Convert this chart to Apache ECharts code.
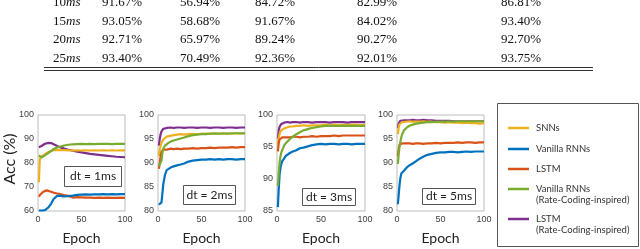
<!DOCTYPE html>
<html><head><meta charset="utf-8">
<script src="https://cdn.jsdelivr.net/npm/echarts@6/dist/echarts.min.js"></script>
<style>html,body{margin:0;padding:0;background:#fff}#c{width:640px;height:249px}</style>
</head><body><div id="c"></div>
<script>
// ---- table data ----
const tableRowLabels = ['10', '15', '20', '25'];
const tableCol1 = ['91.67%', '93.05%', '92.71%', '93.40%'];
const tableCol2 = ['56.94%', '58.68%', '65.97%', '70.49%'];
const tableCol3 = ['84.72%', '91.67%', '89.24%', '92.36%'];
const tableCol4 = ['82.99%', '84.02%', '90.27%', '92.01%'];
const tableCol5 = ['86.81%', '93.40%', '92.70%', '93.75%'];

// ---- chart data ----
const epochs = [1,2,3,4,5,6,8,10,12,15,18,22,26,30,35,40,45,50,55,60,65,70,75,80,85,90,95,100];
const seriesNames = ['SNNs', 'Vanilla RNNs', 'LSTM', 'Vanilla RNNs\n(Rate-Coding-inspired)', 'LSTM\n(Rate-Coding-inspired)'];
const panelTitles = ['dt = 1ms', 'dt = 2ms', 'dt = 3ms', 'dt = 5ms'];
const yMins = [60, 80, 85, 80];
const yIntervals = [10, 5, 5, 5];

// dt = 1ms
const snn1 = [72.0,81.0,82.5,81.8,82.8,83.2,83.8,84.2,84.6,85.0,85.3,85.5,85.4,85.4,85.3,85.2,85.3,85.2,85.3,85.2,85.3,85.2,85.3,85.2,85.3,85.2,85.3,85.3];
const van1 = [60.2,60.1,60.3,60.2,60.4,60.3,60.4,60.5,61.5,63.0,65.0,66.3,66.3,66.1,66.2,66.4,66.7,66.8,66.9,66.8,66.9,66.9,67.0,66.9,67.0,66.9,67.0,67.0];
const lstm1 = [66.0,66.5,67.0,67.5,67.8,68.0,68.4,68.6,68.4,68.0,67.6,67.3,67.0,66.6,66.3,65.6,65.8,65.7,65.6,65.6,65.5,65.6,65.5,65.6,65.5,65.5,65.6,65.5];
const vanRate1 = [83.2,83.0,82.6,82.3,82.5,82.8,83.2,83.6,84.2,85.0,85.8,86.5,86.9,87.3,87.6,87.8,87.9,88.0,87.9,88.0,87.9,88.0,88.0,88.0,87.9,88.0,88.0,88.0];
const lstmRate1 = [86.6,86.8,86.9,87.1,87.4,87.6,88.0,88.3,88.4,88.3,87.8,87.1,86.5,86.0,85.5,85.1,84.7,84.4,84.1,83.8,83.6,83.4,83.2,83.0,82.8,82.6,82.5,82.4];

// dt = 2ms
const snn2 = [91.5,92.8,93.6,94.2,94.6,94.9,95.2,95.5,95.6,95.7,95.8,95.9,96.0,95.9,96.0,96.1,96.0,96.1,96.1,96.1,96.2,96.1,96.1,96.2,96.1,96.2,96.1,96.2];
const van2 = [81.3,81.5,81.4,81.8,83.5,85.5,87.5,88.5,88.9,89.1,89.3,89.5,89.7,89.9,90.3,90.5,90.6,90.7,90.7,90.8,90.7,90.8,90.7,90.8,90.8,90.7,90.8,90.8];
const lstm2 = [88.8,90.0,91.5,92.3,92.7,92.8,92.9,92.8,92.9,93.0,92.9,93.0,92.9,93.0,93.0,93.1,93.0,93.1,93.1,93.2,93.1,93.2,93.2,93.2,93.3,93.2,93.3,93.3];
const vanRate2 = [89.3,89.4,89.6,90.5,92.0,93.0,93.6,93.9,94.2,94.5,94.7,94.9,95.1,95.3,95.6,95.8,95.9,96.0,96.0,96.1,96.1,96.1,96.2,96.1,96.2,96.2,96.2,96.2];
const lstmRate2 = [93.6,95.0,96.0,96.6,96.9,97.1,97.2,97.3,97.3,97.4,97.3,97.4,97.4,97.3,97.4,97.4,97.3,97.4,97.4,97.3,97.4,97.4,97.3,97.4,97.4,97.3,97.4,97.4];

// dt = 3ms
const snn3 = [95.4,96.5,97.1,97.5,97.7,97.8,97.9,98.0,98.1,98.2,98.2,98.3,98.3,98.4,98.3,98.4,98.4,98.4,98.5,98.4,98.5,98.4,98.5,98.4,98.5,98.5,98.4,98.5];
const van3 = [85.6,88.5,90.8,91.8,92.4,92.8,93.2,93.6,93.8,94.1,94.3,94.5,94.8,94.9,95.1,95.3,95.4,95.5,95.4,95.5,95.5,95.4,95.5,95.5,95.4,95.5,95.5,95.5];
const lstm3 = [94.3,95.6,96.2,96.4,96.5,96.5,96.6,96.5,96.6,96.5,96.6,96.6,96.5,96.6,96.6,96.7,96.6,96.7,96.7,96.7,96.8,96.7,96.8,96.8,96.8,96.8,96.8,96.8];
const vanRate3 = [88.9,91.0,92.6,93.6,94.2,94.5,95.2,95.6,95.9,96.3,96.6,97.0,97.3,97.6,97.8,98.0,98.1,98.2,98.3,98.3,98.3,98.3,98.3,98.3,98.3,98.3,98.3,98.3];
const lstmRate3 = [96.3,97.6,98.2,98.5,98.6,98.7,98.8,98.8,98.9,98.8,98.9,98.9,98.8,98.9,98.9,98.8,98.9,98.9,98.9,98.8,98.9,98.9,98.9,98.8,98.9,98.9,98.9,98.9];

// dt = 5ms
const snn4 = [96.0,97.5,98.1,98.3,98.5,98.5,98.6,98.6,98.6,98.7,98.6,98.6,98.6,98.7,98.6,98.6,98.5,98.5,98.4,98.5,98.4,98.4,98.3,98.4,98.3,98.3,98.2,98.3];
const van4 = [81.4,83.5,85.6,87.0,87.8,88.1,88.4,88.8,89.2,89.6,89.9,90.4,90.9,91.3,91.7,91.9,92.1,92.2,92.2,92.3,92.3,92.2,92.3,92.4,92.3,92.4,92.4,92.4];
const lstm4 = [91.5,93.0,93.8,94.0,93.9,94.1,94.0,94.1,94.0,94.1,94.0,94.1,94.1,94.0,94.1,94.1,94.2,94.1,94.2,94.2,94.2,94.3,94.2,94.3,94.3,94.2,94.3,94.3];
const vanRate4 = [89.8,92.0,93.6,94.6,95.4,96.0,96.8,97.2,97.5,97.8,98.0,98.2,98.3,98.4,98.5,98.5,98.6,98.6,98.6,98.7,98.6,98.7,98.7,98.7,98.7,98.7,98.7,98.7];
const lstmRate4 = [97.3,98.3,98.7,98.8,98.9,98.9,98.9,99.0,98.9,98.9,99.0,98.9,98.9,99.0,98.9,98.9,98.8,98.8,98.8,98.8,98.7,98.7,98.7,98.7,98.7,98.7,98.7,98.7];

const panels = [
  [snn1, van1, lstm1, vanRate1, lstmRate1],
  [snn2, van2, lstm2, vanRate2, lstmRate2],
  [snn3, van3, lstm3, vanRate3, lstmRate3],
  [snn4, van4, lstm4, vanRate4, lstmRate4]
];
const colors = ['#EDB120', '#0072BD', '#D95319', '#77AC30', '#7E2F8E'];
const drawOrder = [4, 0, 2, 1, 3];

const gridLefts = [38, 158, 277, 397];
const gridWidths = [87, 87, 88, 87];
const boxes = [[64, 166, 57, 20], [183, 185, 52, 19], [302, 188, 53, 17], [422, 188, 53, 16]];

const sans = 'Lato, "Open Sans", sans-serif';
const grids = [], xAxes = [], yAxes = [], series = [], graphics = [];
panels.forEach((p, i) => {
  grids.push({left: gridLefts[i], top: 115, width: gridWidths[i], height: 96, show: true, borderColor: '#bdbdbd', borderWidth: 1, containLabel: false});
  xAxes.push({type: 'value', gridIndex: i, min: 0, max: 100, interval: 50,
    axisLine: {show: false}, axisTick: {show: false}, splitLine: {show: false},
    axisLabel: {color: '#404040', fontSize: 9, margin: 4, fontFamily: 'Liberation Sans'},
    name: 'Epoch', nameLocation: 'middle', nameGap: 20,
    nameTextStyle: {fontSize: 14, color: '#222', fontFamily: sans}});
  yAxes.push({type: 'value', gridIndex: i, min: yMins[i], max: 100, interval: yIntervals[i],
    axisLine: {show: false}, axisTick: {show: false}, splitLine: {show: false},
    axisLabel: {color: '#404040', fontSize: 9, margin: 4, fontFamily: 'Liberation Sans'}});
  drawOrder.forEach(k => {
    series.push({type: 'line', xAxisIndex: i, yAxisIndex: i, name: seriesNames[k],
      data: epochs.map((e, j) => [e, p[k][j]]), showSymbol: false, symbol: 'none',
      lineStyle: {width: 2.2, color: colors[k]}, itemStyle: {color: colors[k]}, z: 2});
  });
  const b = boxes[i];
  graphics.push({type: 'rect', shape: {x: b[0] + 0.5, y: b[1] + 0.5, width: b[2], height: b[3]},
    style: {fill: '#fff', stroke: '#555', lineWidth: 1}, z: 10});
  graphics.push({type: 'text', x: b[0] + b[2] / 2 + 0.5, y: b[1] + b[3] / 2 + 0.5,
    style: {text: panelTitles[i], align: 'center', verticalAlign: 'middle', fontSize: 12, fontFamily: sans, fill: '#222'}, z: 11});
});

// y axis title
graphics.push({type: 'text', x: 10, y: 159, rotation: Math.PI / 2,
  style: {text: 'Acc (%)', align: 'center', verticalAlign: 'middle', fontSize: 16, fontFamily: sans, fill: '#222'}});

// legend box
graphics.push({type: 'rect', shape: {x: 497.5, y: 103.5, width: 141, height: 143}, style: {fill: '#fff', stroke: '#555', lineWidth: 1}});
const legendY = [128, 149, 169, 189, 219];
seriesNames.forEach((n, k) => {
  graphics.push({type: 'line', shape: {x1: 508, y1: legendY[k], x2: 529, y2: legendY[k]}, style: {stroke: colors[k], lineWidth: 2.5}});
  graphics.push({type: 'text', x: 536, y: legendY[k] - 6,
    style: {text: n, fontSize: 9.5, lineHeight: 11, fontFamily: sans, fill: '#333', verticalAlign: 'top'}});
});

// table
const rowY = [3, 21.5, 40, 58.5];
const colX = [102, 180, 255, 357, 501];
const cols = [tableCol1, tableCol2, tableCol3, tableCol4, tableCol5];
const serif = '"Liberation Serif", "DejaVu Serif", serif';
tableRowLabels.forEach((lab, r) => {
  graphics.push({type: 'text', x: 53, y: rowY[r],
    style: {text: '{a|' + lab + '}{b|ms}', verticalAlign: 'middle',
      rich: {a: {fontSize: 13, fontFamily: serif, fill: '#111'}, b: {fontSize: 13, fontStyle: 'italic', fontFamily: serif, fill: '#111'}}}});
  cols.forEach((c, ci) => {
    graphics.push({type: 'text', x: colX[ci], y: rowY[r],
      style: {text: c[r], verticalAlign: 'middle', fontSize: 13, fontFamily: serif, fill: '#111'}});
  });
});
graphics.push({type: 'line', shape: {x1: 44, y1: 67.5, x2: 593, y2: 67.5}, style: {stroke: '#333', lineWidth: 1}});
graphics.push({type: 'line', shape: {x1: 44, y1: 70.5, x2: 593, y2: 70.5}, style: {stroke: '#333', lineWidth: 1}});

const chart = echarts.init(document.getElementById('c'), null, {renderer: 'canvas'});
chart.setOption({
  animation: false,
  backgroundColor: '#fff',
  grid: grids, xAxis: xAxes, yAxis: yAxes, series: series,
  graphic: {elements: graphics}
});
</script></body></html>
